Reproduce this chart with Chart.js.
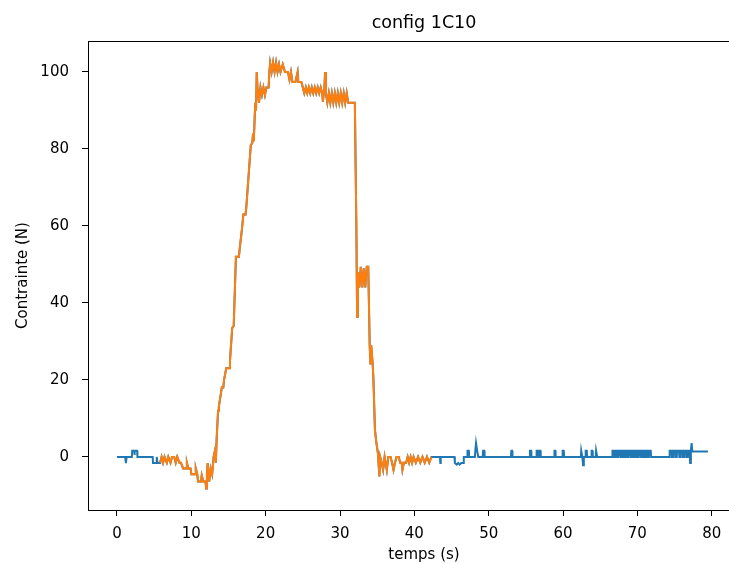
<!DOCTYPE html>
<html>
<head>
<meta charset="utf-8">
<script src="https://cdn.jsdelivr.net/npm/chart.js@4"></script>
<style>
  html, body { margin: 0; padding: 0; background: #fff; overflow: hidden; width: 729px; height: 564px; }
  canvas { display: block; }
</style>
</head>
<body>
<!-- the original figure is cropped on the right, so the canvas runs past the window edge -->
<canvas id="chart" width="760" height="564"></canvas>
<script>
/* config 1C10 — force vs time, full record (blue) and selected segment (orange) */

// [temps (s), contrainte (N)]
const blueBefore = [
  [0,0],[1.1,0],[1.2,-1.6],[1.3,0],[2.0,0],[2.05,1.6],[2.3,1.6],[2.35,0.5],[2.4,1.6],[2.7,1.6],[2.75,0],
  [4.8,0],[4.85,-1.6],[5.3,-1.6],[5.35,0],[5.45,-1.6],[5.8,-1.6]
];

const orangeSegment = [
  [5.8,-1.5],[6.0,0],[6.2,-1.5],[6.4,0],[6.7,-1.5],[6.9,0],[7.2,-1.5],[7.4,0],[7.7,0],[7.9,-1.5],
  [8.1,0],[8.4,-1.5],[8.6,-1.5],[8.9,-3],[9.3,-3],[9.4,-1.5],[9.6,-3],[9.9,-3],[10.0,-4.5],[10.5,-4.5],
  [10.6,-3],[10.8,-4.5],[10.9,-6.4],[11.3,-6.4],[11.4,-4.8],[11.6,-6.4],[11.9,-6.4],[12.0,-8.2],[12.1,-4.5],[12.2,-1.6],
  [12.4,-6.4],[12.6,-3],[12.8,-4.5],[13.0,0],[13.2,1.8],[13.3,-1.5],[13.4,4.4],[13.6,12],[13.7,13],[14.1,18],
  [14.3,18],[14.4,20],[14.7,23],[15.1,23],[15.2,25],[15.5,33.5],[15.7,34],[16.0,52],[16.4,52],[16.5,54],
  [16.8,59],[17.0,63],[17.3,63],[17.4,65],[18.0,81],[18.2,81.5],[18.3,84],[18.4,82],[18.6,92],[18.7,90],
  [18.8,100],[18.9,96],[19.1,92],[19.3,96],[19.5,94],[19.7,96],[19.9,94],[20.1,96],[20.4,96],[20.5,100],
  [20.6,102.3],[20.8,100],[21.0,102.5],[21.2,100],[21.4,102.5],[21.6,100],[21.8,102],[22.0,100],[22.3,102],[22.6,100],
  [23.0,100],[23.2,98],[23.4,100],[23.6,97.4],[24.0,97.4],[24.3,100],[24.4,97.4],[24.8,97.4],[25.0,96],[25.2,94.5],
  [25.4,96],[25.6,94.5],[25.8,96],[26.0,94.5],[26.2,96],[26.4,94.5],[26.6,96],[26.8,94.5],[27.0,96],[27.2,94.5],
  [27.4,96],[27.6,94.5],[27.7,92.3],[27.9,96],[28.0,100],[28.1,94.5],[28.3,92],[28.5,94.5],[28.7,92],[28.9,94.5],
  [29.1,92],[29.3,94.5],[29.5,92],[29.7,94.5],[29.9,92],[30.1,94.5],[30.3,92],[30.5,94.5],[30.7,92],[30.9,94.5],
  [31.1,92],[32.0,92],[32.2,60],[32.3,36.4],[32.4,48],[32.6,44],[32.8,49.4],[33.0,44],[33.2,49],[33.4,44],
  [33.6,49.4],[33.8,49.4],[34.0,28.6],[34.1,24],[34.2,29],[34.4,24],[34.5,20],[34.7,7],[34.9,3.6],[35.1,1],
  [35.3,-5.1],[35.4,0],[35.6,-1.5],[35.8,-3.4],[36.0,0],[36.3,-3.4],[36.5,0],[36.8,0],[37.0,-1.5],[37.2,-3.4],
  [37.4,-1.5],[37.6,0],[37.9,0],[38.1,-1.5],[38.3,-1.5],[38.4,-3.4],[38.6,-1.5],[38.9,-1.5],[39.1,0],[39.3,-1.5],
  [39.5,0],[39.7,-1.5],[39.9,0],[40.2,-1.5],[40.5,0],[40.8,-1.5],[41.1,0],[41.4,-1.5],[41.7,0],[42.0,-1.5],
  [42.3,0]
];

const blueAfter = [
  [42.3,0],[43.45,0],[43.5,-1.6],[43.55,0],[45.4,0],[45.45,-1.6],[45.7,-2],[45.9,-1.6],[46.1,-2],[46.3,-1.6],
  [46.6,-1.6],[46.65,0],[47.1,0],[47.15,1.6],[47.3,1.6],[47.35,0],[48.15,0],[48.2,1.6],[48.3,3.6],[48.45,1.6],
  [48.55,1.6],[48.6,0],[49.2,0],[49.25,1.6],[49.4,1.6],[49.45,0],[53.0,0],[53.05,1.6],[53.15,1.6],[53.2,0],
  [55.5,0],[55.55,1.6],[55.7,1.6],[55.75,0],[56.4,0],[56.45,1.6],[56.6,1.6],[56.65,0],[56.8,0],[56.85,1.6],
  [56.95,1.6],[57.0,0],[58.8,0],[58.85,1.6],[58.95,1.6],[59.0,0],[59.9,0],[59.95,1.6],[60.1,1.6],[60.15,0],
  [62.4,0],[62.45,1.6],[62.55,1.6],[62.6,0],[62.7,-2.2],[62.8,0],[63.0,0],[63.05,1.6],[63.2,1.6],[63.25,0],
  [63.8,0],[63.85,1.6],[63.95,1.6],[64.0,0],[64.4,0],[64.45,1.6],[64.55,1.6],[64.6,0],[66.6,0],[66.65,1.6],
  [66.85,1.6],[66.9,0],[67.05,0],[67.1,1.6],[67.3,1.6],[67.35,0],[67.5,0],[67.55,1.6],[67.75,1.6],[67.8,0],
  [67.95,0],[68.0,1.6],[68.2,1.6],[68.25,0],[68.4,0],[68.45,1.6],[68.65,1.6],[68.7,0],[68.85,0],[68.9,1.6],
  [69.1,1.6],[69.15,0],[69.3,0],[69.35,1.6],[69.55,1.6],[69.6,0],[69.75,0],[69.8,1.6],[70.0,1.6],[70.05,0],
  [70.2,0],[70.25,1.6],[70.45,1.6],[70.5,0],[70.65,0],[70.7,1.6],[70.9,1.6],[70.95,0],[71.1,0],[71.15,1.6],
  [71.35,1.6],[71.4,0],[71.55,0],[71.6,1.6],[71.8,1.6],[71.85,0],[74.3,0],[74.35,1.6],[74.6,1.6],[74.65,0],
  [74.8,0],[74.85,1.6],[75.1,1.6],[75.15,0],[75.3,0],[75.35,1.6],[75.6,1.6],[75.65,0],[75.8,0],[75.85,1.6],
  [76.1,1.6],[76.15,0],[76.3,0],[76.35,1.6],[76.6,1.6],[76.65,0],[76.8,0],[76.85,1.6],[77.05,1.6],[77.1,-1.6],
  [77.2,1.6],[77.3,3.6],[77.4,1.4],[79.5,1.4]
];

const xTicks = [0, 10, 20, 30, 40, 50, 60, 70, 80];
const yTicks = [0, 20, 40, 60, 80, 100];

const toPoints = arr => arr.map(p => ({ x: p[0], y: p[1] }));
// the full record runs underneath the highlighted segment
const blueFull = toPoints(blueBefore.concat(orangeSegment, blueAfter));

const FONT = 'DejaVu Sans';

// closes the matplotlib-style frame (top and right)
const frame = {
  id: 'frame',
  afterDraw(chart) {
    const { ctx, chartArea: a } = chart;
    ctx.save();
    ctx.strokeStyle = '#000';
    ctx.lineWidth = 1;
    ctx.strokeRect(a.left + 0.5, a.top + 0.5, a.right - a.left - 1, a.bottom - a.top);
    ctx.restore();
  }
};

new Chart(document.getElementById('chart'), {
  type: 'line',
  data: {
    datasets: [
      { label: 'signal', data: blueFull, borderColor: '#1f77b4', borderWidth: 2, pointRadius: 0, tension: 0, order: 1 },
      { label: 'segment', data: toPoints(orangeSegment), borderColor: '#ff7f0e', borderWidth: 2, pointRadius: 0, tension: 0, order: 0 }
    ]
  },
  options: {
    responsive: false,
    animation: false,
    layout: { padding: 0 },
    plugins: {
      legend: { display: false },
      tooltip: { enabled: false },
      title: {
        display: true,
        fullSize: false,
        text: 'config 1C10',
        color: '#000',
        font: { family: FONT, size: 17.5, weight: 'normal' },
        padding: { top: 13, bottom: 7 }
      }
    },
    scales: {
      x: {
        type: 'linear',
        min: -3.9,
        max: 86.5,
        afterBuildTicks: s => { s.ticks = xTicks.map(v => ({ value: v })); },
        afterFit: s => { s.height = 54; },
        ticks: { color: '#000', font: { family: FONT, size: 15 }, padding: 9, maxRotation: 0 },
        grid: { drawOnChartArea: false, color: '#000', tickLength: 6 },
        border: { color: '#000' },
        title: { display: true, text: 'temps (s)', color: '#000', font: { family: FONT, size: 15 }, padding: { top: -7, bottom: 0 } }
      },
      y: {
        type: 'linear',
        min: -13.8,
        max: 108.05,
        afterBuildTicks: s => { s.ticks = yTicks.map(v => ({ value: v })); },
        afterFit: s => { s.width = 88; },
        ticks: { color: '#000', font: { family: FONT, size: 15 }, padding: 13 },
        grid: { drawOnChartArea: false, color: '#000', tickLength: 6 },
        border: { color: '#000' },
        title: { display: true, text: 'Contrainte (N)', color: '#000', font: { family: FONT, size: 15 }, padding: { top: 14, bottom: 0 } }
      }
    }
  },
  plugins: [frame]
});
</script>
</body>
</html>
